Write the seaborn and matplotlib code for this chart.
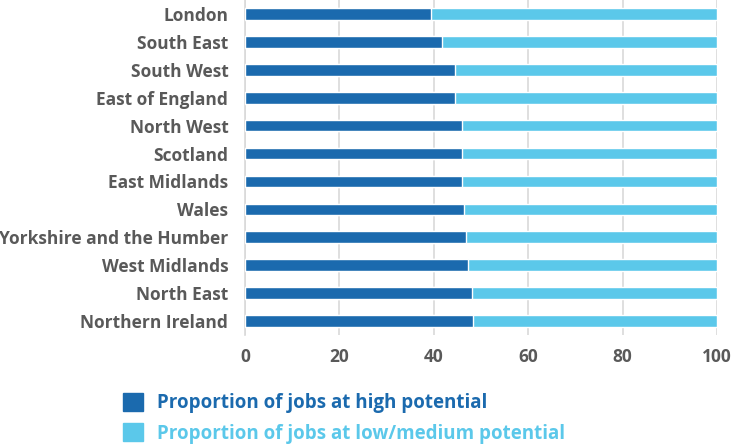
import matplotlib
matplotlib.use("Agg")
import matplotlib.pyplot as plt
from matplotlib.patches import Patch
import seaborn as sns
import pandas as pd

# ======= Data ========
regions = ["London", "South East", "South West", "East of England", "North West",
           "Scotland", "East Midlands", "Wales", "Yorkshire and the Humber",
           "West Midlands", "North East", "Northern Ireland"]
high_potential = [39.4, 41.7, 44.5, 44.5, 46.0, 46.0, 46.0, 46.5, 46.8, 47.2, 48.1, 48.4]
low_medium_potential = [100 - v for v in high_potential]
x_ticks = [0, 20, 40, 60, 80, 100]
series_names = ["Proportion of jobs at high potential",
                "Proportion of jobs at low/medium potential"]

DARK = "#1B6AAE"
LIGHT = "#5BC8EA"
TEXT = "#595959"

df = pd.DataFrame({"region": regions,
                   "high": high_potential,
                   "low": low_medium_potential})
df["total"] = df["high"] + df["low"]

sns.set_theme(style="white")
plt.rcParams["font.family"] = ["Open Sans", "DejaVu Sans"]

fig = plt.figure(figsize=(7.36, 4.46), dpi=100)
ax = fig.add_axes([245 / 736, 1 - 335 / 446, 472 / 736, 335 / 446])

# stacked bars: full length first (light), then high part (dark) on top
sns.barplot(data=df, y="region", x="total", color=LIGHT, orient="h",
            width=0.42, saturation=1, ax=ax, zorder=3)
sns.barplot(data=df, y="region", x="high", color=DARK, orient="h",
            width=0.42, saturation=1, ax=ax, zorder=4)

ax.set_xlim(0, 100)
ax.set_xticks(x_ticks)
ax.set_xlabel("")
ax.set_ylabel("")
ax.grid(axis="x", color="#D9D9D9", linewidth=1.2, zorder=0)
for s in ["top", "right", "bottom"]:
    ax.spines[s].set_visible(False)
ax.spines["left"].set_color("#D9D9D9")
ax.spines["left"].set_linewidth(1.2)
ax.tick_params(axis="both", length=0, colors=TEXT, labelsize=12.5)
ax.tick_params(axis="x", pad=9)
ax.tick_params(axis="y", pad=12)
for lbl in ax.get_xticklabels() + ax.get_yticklabels():
    lbl.set_fontweight("bold")

handles = [Patch(color=DARK), Patch(color=LIGHT)]
fig.legend(handles, series_names, loc="upper left",
           bbox_to_anchor=(115 / 736, 1 - 385 / 446), frameon=False,
           labelcolor=[DARK, LIGHT], prop={"size": 13.5, "weight": "bold"},
           handlelength=1.1, handleheight=1.1, handletextpad=0.75,
           labelspacing=0.55, borderaxespad=0)

fig.savefig("out.png", dpi=100)
